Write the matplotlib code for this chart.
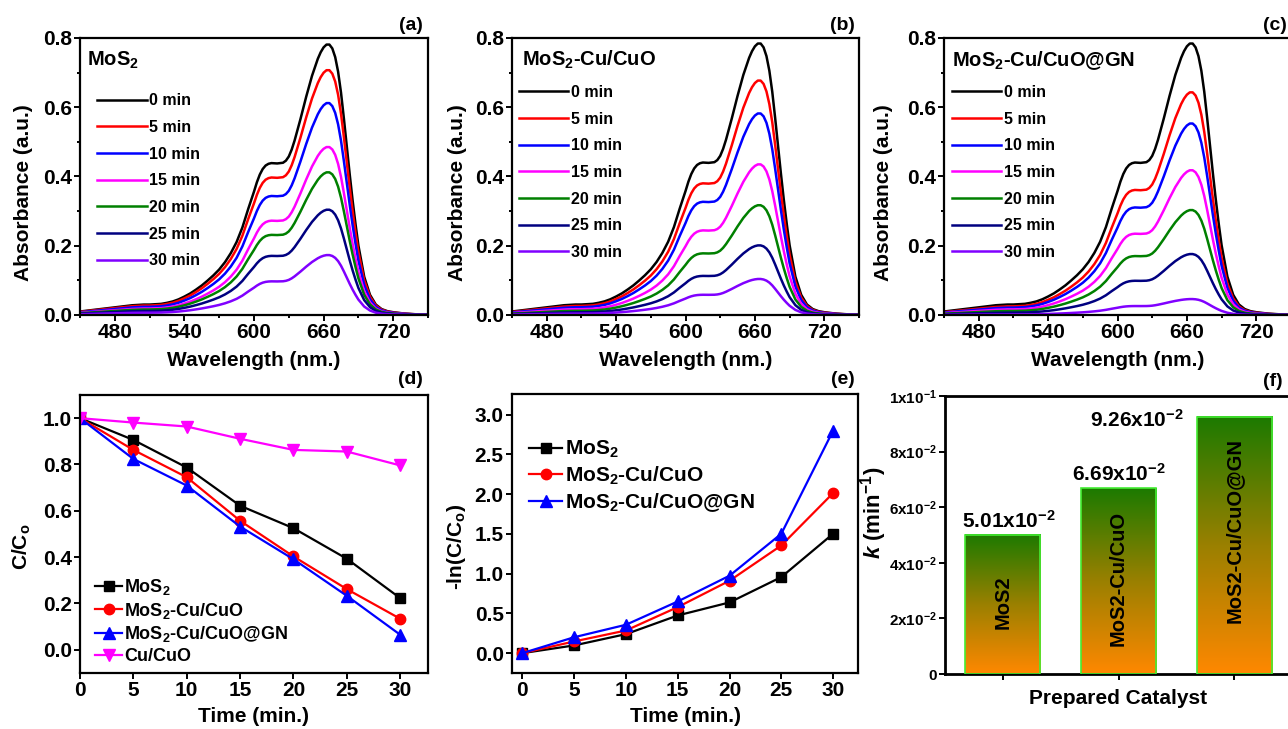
import numpy as np
import matplotlib.pyplot as plt
from matplotlib.colors import LinearSegmentedColormap

plt.rcParams['font.family'] = ['Liberation Sans', 'DejaVu Sans']
plt.rcParams['font.weight'] = 'bold'
plt.rcParams['axes.labelweight'] = 'bold'
plt.rcParams['mathtext.fontset'] = 'custom'
plt.rcParams['mathtext.rm'] = 'Liberation Sans:bold'
plt.rcParams['mathtext.bf'] = 'Liberation Sans:bold'
plt.rcParams['mathtext.it'] = 'Liberation Sans:bold:italic'
plt.rcParams['mathtext.default'] = 'bf'
plt.rcParams['axes.linewidth'] = 1.6

# UV-vis spectrum of the dye at t = 0
wavelength = [450, 455, 460, 465, 470, 475, 480, 485, 490, 495,
              500, 505, 510, 515, 520, 525, 530, 535, 540, 545,
              550, 555, 560, 565, 570, 575, 580, 585, 590, 595,
              600, 602.5, 605, 607.5, 610, 612.5, 615, 620, 625, 627.5,
              630, 632.5, 635, 640, 645, 650, 655, 657.5, 660, 662.5,
              665, 667.5, 670, 672.5, 675, 677.5, 680, 682.5, 685, 687.5,
              690, 695, 700, 705, 710, 715, 720, 725, 730, 735,
              740, 745, 750]
absorb_0 = [0.010, 0.012, 0.014, 0.016, 0.018, 0.020, 0.022, 0.024, 0.026, 0.028,
            0.029, 0.030, 0.030, 0.031, 0.032, 0.035, 0.039, 0.045, 0.053, 0.062,
            0.073, 0.085, 0.099, 0.114, 0.131, 0.152, 0.178, 0.210, 0.252, 0.305,
            0.355, 0.382, 0.404, 0.420, 0.430, 0.435, 0.437, 0.436, 0.438, 0.444,
            0.456, 0.476, 0.502, 0.563, 0.628, 0.688, 0.737, 0.756, 0.770, 0.778,
            0.778, 0.767, 0.742, 0.700, 0.640, 0.565, 0.485, 0.405, 0.330, 0.262,
            0.200, 0.110, 0.058, 0.030, 0.017, 0.011, 0.008, 0.006, 0.004, 0.003,
            0.002, 0.001, 0.001]

times = ['0 min', '5 min', '10 min', '15 min', '20 min', '25 min', '30 min']
spec_colors = ['black', 'red', 'blue', 'magenta', 'green', 'navy', '#8000ff']

# peak absorbance (664 nm) at each time, panels a, b, c
peak_a = [0.781, 0.707, 0.612, 0.485, 0.412, 0.304, 0.173]
peak_b = [0.784, 0.677, 0.582, 0.435, 0.317, 0.201, 0.104]
peak_c = [0.784, 0.643, 0.553, 0.418, 0.303, 0.176, 0.046]

# kinetics
t = [0, 5, 10, 15, 20, 25, 30]
cc_mos2 = [1.0, 0.906, 0.787, 0.622, 0.525, 0.393, 0.223]
cc_cu = [1.0, 0.863, 0.745, 0.557, 0.403, 0.262, 0.134]
cc_gn = [1.0, 0.824, 0.709, 0.532, 0.391, 0.233, 0.065]
cc_cuo = [1.0, 0.981, 0.964, 0.911, 0.863, 0.856, 0.796]

ln_mos2 = [0.0, 0.097, 0.239, 0.474, 0.638, 0.957, 1.502]
ln_cu = [0.0, 0.147, 0.285, 0.579, 0.911, 1.355, 2.014]
ln_gn = [0.0, 0.200, 0.357, 0.650, 0.974, 1.502, 2.800]

catalysts = ['MoS2', 'MoS2-Cu/CuO', 'MoS2-Cu/CuO@GN']
k_vals = [5.01e-2, 6.69e-2, 9.26e-2]
k_text = [r'5.01x10$^{-2}$', r'6.69x10$^{-2}$', r'9.26x10$^{-2}$']

W, H = 1288, 729
fig = plt.figure(figsize=(W / 100, H / 100), dpi=100)


def box(left, top, right, bottom):
    return [left / W, 1 - bottom / H, (right - left) / W, (bottom - top) / H]


def style(ax, fs=15):
    ax.tick_params(which='both', direction='out', top=False, right=False,
                   labelsize=fs, pad=2, width=1.4)
    ax.tick_params(which='major', length=4)
    ax.tick_params(which='minor', length=2.2)


spec_boxes = [box(80, 38, 428, 315), box(512, 38, 859, 315), box(944, 38, 1291, 315)]
spec_titles = ['MoS$_2$', 'MoS$_2$-Cu/CuO', 'MoS$_2$-Cu/CuO@GN']
spec_peaks = [peak_a, peak_b, peak_c]
title_x = [0.02, 0.029, 0.023]
leg_x = [0.049, 0.02, 0.023]
leg_y = [0.80, 0.83, 0.83]
ylab_x = [-0.135, -0.13, -0.147]
a0 = np.array(absorb_0)
for i in range(3):
    ax = fig.add_axes(spec_boxes[i])
    for j in range(7):
        ax.plot(wavelength, a0 * spec_peaks[i][j] / a0.max(), color=spec_colors[j],
                lw=1.8, solid_joinstyle='round', label=times[j])
    ax.set_xlim(450, 750)
    ax.set_ylim(0, 0.8)
    ax.set_xticks([480, 540, 600, 660, 720])
    ax.set_xticks(np.arange(450, 751, 30), minor=True)
    ax.set_yticks([0, 0.2, 0.4, 0.6, 0.8])
    ax.set_yticks(np.arange(0, 0.81, 0.1), minor=True)
    ax.set_yticklabels(['0.0', '0.2', '0.4', '0.6', '0.8'])
    style(ax)
    ax.set_xlabel('Wavelength (nm.)', fontsize=15, labelpad=6)
    ax.set_ylabel('Absorbance (a.u.)', fontsize=15)
    ax.yaxis.set_label_coords(ylab_x[i], 0.44)
    ax.text(title_x[i], 0.92, spec_titles[i], transform=ax.transAxes, fontsize=14.5,
            ha='left', va='center')
    ax.legend(loc='upper left', bbox_to_anchor=(leg_x[i], leg_y[i]), frameon=False,
              fontsize=11.5, handlelength=3.1, handletextpad=0.15, labelspacing=0.73,
              borderpad=0, borderaxespad=0)

# (d) C/Co
ax = fig.add_axes(box(80, 395, 428, 673))
ax.plot(t, cc_mos2, '-s', color='black', lw=1.6, ms=7, label='MoS$_2$')
ax.plot(t, cc_cu, '-o', color='red', lw=1.6, ms=7.5, label='MoS$_2$-Cu/CuO')
ax.plot(t, cc_gn, '-^', color='blue', lw=1.6, ms=8, label='MoS$_2$-Cu/CuO@GN')
ax.plot(t, cc_cuo, '-v', color='magenta', lw=1.6, ms=8, label='Cu/CuO')
ax.set_xlim(0, 32.6)
ax.set_ylim(-0.1, 1.1)
ax.set_xticks(t)
ax.set_yticks([0, 0.2, 0.4, 0.6, 0.8, 1.0])
ax.set_yticklabels(['0.0', '0.2', '0.4', '0.6', '0.8', '1.0'])
style(ax)
ax.set_xlabel('Time (min.)', fontsize=15, labelpad=5)
ax.set_ylabel('C/C$_o$', fontsize=15)
ax.yaxis.set_label_coords(-0.135, 0.453)
ax.legend(loc='upper left', bbox_to_anchor=(0.043, 0.345), frameon=False, fontsize=13,
          handlelength=1.5, handletextpad=0.1, labelspacing=0.2, borderpad=0,
          borderaxespad=0)

# (e) -ln(C/Co)
ax = fig.add_axes(box(512, 394, 858, 673))
ax.plot(t, ln_mos2, '-s', color='black', lw=1.6, ms=7, label='MoS$_2$')
ax.plot(t, ln_cu, '-o', color='red', lw=1.6, ms=7.5, label='MoS$_2$-Cu/CuO')
ax.plot(t, ln_gn, '-^', color='blue', lw=1.6, ms=8, label='MoS$_2$-Cu/CuO@GN')
ax.set_xlim(-1, 32.4)
ax.set_ylim(-0.25, 3.26)
ax.set_xticks(t)
ax.set_yticks([0, 0.5, 1.0, 1.5, 2.0, 2.5, 3.0])
ax.set_yticklabels(['0.0', '0.5', '1.0', '1.5', '2.0', '2.5', '3.0'])
style(ax)
ax.set_xlabel('Time (min.)', fontsize=15, labelpad=5)
ax.set_ylabel('-ln(C/C$_o$)', fontsize=15)
ax.yaxis.set_label_coords(-0.127, 0.45)
ax.legend(loc='upper left', bbox_to_anchor=(0.049, 0.838), frameon=False, fontsize=15,
          handlelength=1.6, handletextpad=0.15, labelspacing=0.2, borderpad=0,
          borderaxespad=0)

# (f) rate constants
ax = fig.add_axes(box(945, 396, 1292, 674))
pos = [1, 2, 3]
cmap = LinearSegmentedColormap.from_list('og', ['#ff8800', '#9a8000', '#1c7a00'])
grad = np.linspace(0, 1, 256).reshape(-1, 1)
bars = ax.bar(pos, k_vals, width=0.65, facecolor='none', edgecolor='#44ee33',
              linewidth=1.2, zorder=3)
for b in bars:
    x0, w, h = b.get_x(), b.get_width(), b.get_height()
    ax.imshow(grad, extent=[x0, x0 + w, 0, h], origin='lower', aspect='auto',
              cmap=cmap, zorder=2)
lab_y = [0.0259, 0.0345, 0.0517]
for p, lab, y in zip(pos, catalysts, lab_y):
    ax.text(p, y, lab, rotation=90, ha='center', va='center', fontsize=14.5)
ax.text(1.05, k_vals[0] + 0.001, k_text[0], ha='center', va='bottom', fontsize=15)
ax.text(2.0, k_vals[1] + 0.001, k_text[1], ha='center', va='bottom', fontsize=15)
ax.text(2.16, 0.0913, k_text[2], ha='center', va='center', fontsize=15)
ax.set_xlim(0.5, 3.5)
ax.set_ylim(0, 0.1)
ax.set_xticks(pos)
ax.set_xticklabels([])
ax.set_yticks([0, 0.02, 0.04, 0.06, 0.08, 0.1])
ax.set_yticklabels(['0', r'2x10$^{-2}$', r'4x10$^{-2}$', r'6x10$^{-2}$',
                    r'8x10$^{-2}$', r'1x10$^{-1}$'])
style(ax, fs=11)
for s in ax.spines.values():
    s.set_linewidth(2)
ax.set_xlabel('Prepared Catalyst', fontsize=15, labelpad=5)
ax.set_ylabel(r'$\mathit{k}$ (min$^{-1}$)', fontsize=16)
ax.yaxis.set_label_coords(-0.162, 0.58)

# panel letters
for lab, x, y in [('(a)', 423, 25), ('(b)', 855, 25), ('(c)', 1287, 25),
                  ('(d)', 423, 380), ('(e)', 855, 380), ('(f)', 1283, 382)]:
    fig.text(x / W, 1 - y / H, lab, ha='right', va='center', fontsize=14)

fig.savefig('out.png', dpi=100)
